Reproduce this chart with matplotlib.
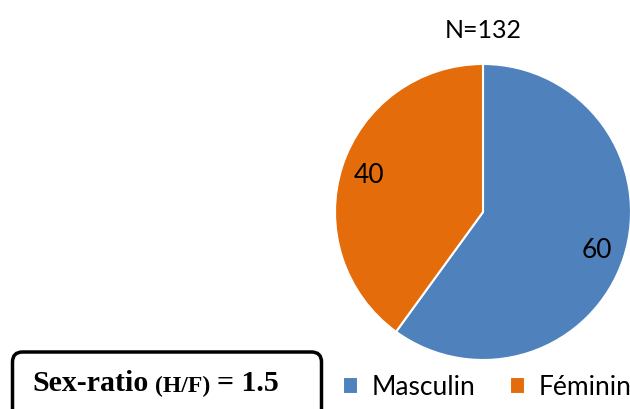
import matplotlib.pyplot as plt
from matplotlib.patches import FancyBboxPatch

labels = ['Masculin', 'Féminin']
values = [60, 40]
colors = ['#4F81BD', '#E46C0A']
title = 'N=132'

plt.rcParams['font.family'] = ['Lato', 'DejaVu Sans']

fig = plt.figure(figsize=(6.3, 4.1), dpi=100)

# pie axes, placed to match the reference
ax = fig.add_axes([(483 - 148) / 630, (197 - 148) / 410, 296 / 630, 296 / 410])
wedges, texts, autotexts = ax.pie(values, colors=colors, startangle=90, counterclock=False,
                                  autopct=lambda p: '%d' % round(p * sum(values) / 100),
                                  pctdistance=0.81,
                                  wedgeprops=dict(edgecolor='white', linewidth=1.5),
                                  textprops=dict(fontsize=19, color='black'))
ax.set_aspect('equal')
ax.set_xlim(-1, 1)
ax.set_ylim(-1, 1)

fig.text(483 / 630, 1 - 30 / 410, title, ha='center', va='center', fontsize=18)

# legend
fig.legend(wedges, labels, loc='center', bbox_to_anchor=(487 / 630, 1 - 388 / 410),
           ncol=2, frameon=False, fontsize=19, handlelength=0.6, handleheight=0.6,
           handletextpad=0.5, columnspacing=1.3, borderpad=0, borderaxespad=0)

# sex ratio box (in inches, bottom runs off the figure)
box = FancyBboxPatch((0.125, -0.3), 3.09, 0.87,
                     boxstyle='round,pad=0,rounding_size=0.1',
                     transform=fig.dpi_scale_trans, facecolor='white', edgecolor='black',
                     linewidth=2.5)
fig.patches.append(box)
fig.text(32 / 630, 1 - 384 / 410, 'Sex-ratio', ha='left', va='center',
         fontsize=21.5, fontweight='bold', family='Liberation Serif')
fig.text(155 / 630, 1 - 386 / 410, '(H/F)', ha='left', va='center',
         fontsize=17, fontweight='bold', family='Liberation Serif')
fig.text(217 / 630, 1 - 384 / 410, '= 1.5', ha='left', va='center',
         fontsize=21.5, fontweight='bold', family='Liberation Serif')

fig.savefig('out.png', dpi=100)
